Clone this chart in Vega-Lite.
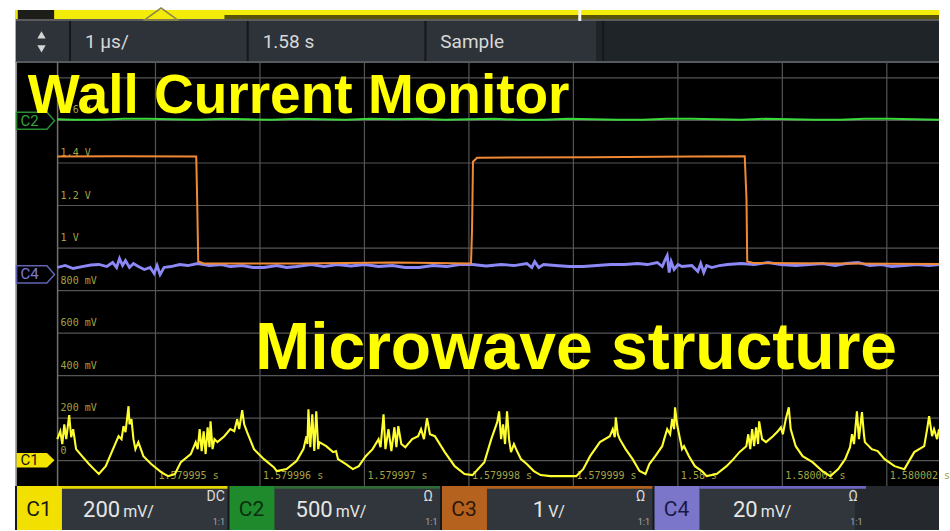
{
  "$schema": "https://vega.github.io/schema/vega-lite/v6.json",
  "width": 950,
  "height": 531,
  "autosize": {"type": "fit", "contains": "padding"},
  "padding": 0,
  "background": "#ffffff",
  "config": {"view": {"stroke": null}},
  "resolve": {"scale": {"x": "independent", "color": "independent"}},
  "datasets": {
    "c1": [
      {"t": -5.940, "v": 0.101}, {"t": -5.911, "v": 0.138}, {"t": -5.892, "v": 0.078}, {"t": -5.873, "v": 0.171},
      {"t": -5.854, "v": 0.101}, {"t": -5.826, "v": 0.214}, {"t": -5.807, "v": 0.110}, {"t": -5.788, "v": 0.148},
      {"t": -5.760, "v": 0.054}, {"t": -5.703, "v": 0.021}, {"t": -5.637, "v": -0.016}, {"t": -5.589, "v": -0.040},
      {"t": -5.542, "v": -0.063}, {"t": -5.476, "v": -0.026}, {"t": -5.419, "v": 0.040}, {"t": -5.353, "v": 0.115},
      {"t": -5.325, "v": 0.101}, {"t": -5.306, "v": 0.162}, {"t": -5.287, "v": 0.134}, {"t": -5.258, "v": 0.256},
      {"t": -5.249, "v": 0.171}, {"t": -5.230, "v": 0.195}, {"t": -5.211, "v": 0.101}, {"t": -5.192, "v": 0.054},
      {"t": -5.164, "v": 0.087}, {"t": -5.116, "v": 0.021}, {"t": -5.041, "v": -0.016}, {"t": -4.946, "v": -0.054},
      {"t": -4.880, "v": -0.073}, {"t": -4.814, "v": -0.063}, {"t": -4.757, "v": -0.007}, {"t": -4.662, "v": 0.031},
      {"t": -4.615, "v": 0.087}, {"t": -4.596, "v": 0.054}, {"t": -4.577, "v": 0.148}, {"t": -4.558, "v": 0.045},
      {"t": -4.539, "v": 0.138}, {"t": -4.520, "v": 0.031}, {"t": -4.501, "v": 0.157}, {"t": -4.483, "v": 0.063},
      {"t": -4.473, "v": 0.185}, {"t": -4.454, "v": 0.054}, {"t": -4.435, "v": 0.101}, {"t": -4.407, "v": 0.087},
      {"t": -4.341, "v": 0.115}, {"t": -4.284, "v": 0.148}, {"t": -4.246, "v": 0.138}, {"t": -4.218, "v": 0.195},
      {"t": -4.199, "v": 0.148}, {"t": -4.170, "v": 0.237}, {"t": -4.151, "v": 0.171}, {"t": -4.123, "v": 0.134},
      {"t": -4.057, "v": 0.054}, {"t": -3.962, "v": 0.007}, {"t": -3.868, "v": -0.031}, {"t": -3.839, "v": -0.049},
      {"t": -3.745, "v": -0.040}, {"t": -3.650, "v": -0.002}, {"t": -3.584, "v": 0.054}, {"t": -3.555, "v": 0.115},
      {"t": -3.546, "v": 0.078}, {"t": -3.536, "v": 0.242}, {"t": -3.518, "v": 0.063}, {"t": -3.499, "v": 0.218},
      {"t": -3.480, "v": 0.045}, {"t": -3.461, "v": 0.232}, {"t": -3.442, "v": 0.054}, {"t": -3.432, "v": 0.087},
      {"t": -3.366, "v": 0.068}, {"t": -3.300, "v": 0.040}, {"t": -3.272, "v": 0.045}, {"t": -3.253, "v": 0.007},
      {"t": -3.177, "v": -0.016}, {"t": -3.111, "v": -0.040}, {"t": -3.054, "v": -0.026}, {"t": -2.988, "v": 0.021},
      {"t": -2.922, "v": 0.054}, {"t": -2.865, "v": 0.101}, {"t": -2.846, "v": 0.063}, {"t": -2.817, "v": 0.218},
      {"t": -2.799, "v": 0.054}, {"t": -2.770, "v": 0.148}, {"t": -2.742, "v": 0.045}, {"t": -2.713, "v": 0.157},
      {"t": -2.694, "v": 0.063}, {"t": -2.676, "v": 0.162}, {"t": -2.647, "v": 0.078}, {"t": -2.609, "v": 0.063},
      {"t": -2.543, "v": 0.101}, {"t": -2.486, "v": 0.115}, {"t": -2.458, "v": 0.148}, {"t": -2.430, "v": 0.101},
      {"t": -2.401, "v": 0.200}, {"t": -2.373, "v": 0.124}, {"t": -2.326, "v": 0.115}, {"t": -2.231, "v": 0.040},
      {"t": -2.136, "v": -0.026}, {"t": -2.042, "v": -0.063}, {"t": -1.966, "v": -0.068}, {"t": -1.852, "v": -0.007},
      {"t": -1.786, "v": 0.101}, {"t": -1.729, "v": 0.181}, {"t": -1.711, "v": 0.232}, {"t": -1.692, "v": 0.101},
      {"t": -1.673, "v": 0.171}, {"t": -1.654, "v": 0.078}, {"t": -1.635, "v": 0.232}, {"t": -1.616, "v": 0.101},
      {"t": -1.597, "v": 0.040}, {"t": -1.569, "v": 0.078}, {"t": -1.540, "v": 0.045}, {"t": -1.502, "v": 0.007},
      {"t": -1.446, "v": -0.016}, {"t": -1.379, "v": -0.049}, {"t": -1.313, "v": -0.068}, {"t": -1.219, "v": -0.073},
      {"t": -1.096, "v": -0.073}, {"t": -0.973, "v": -0.073}, {"t": -0.906, "v": -0.040}, {"t": -0.840, "v": 0.021},
      {"t": -0.746, "v": 0.087}, {"t": -0.651, "v": 0.115}, {"t": -0.623, "v": 0.148}, {"t": -0.604, "v": 0.110},
      {"t": -0.594, "v": 0.204}, {"t": -0.575, "v": 0.124}, {"t": -0.556, "v": 0.101}, {"t": -0.500, "v": 0.054},
      {"t": -0.433, "v": 0.007}, {"t": -0.367, "v": -0.049}, {"t": -0.310, "v": -0.063}, {"t": -0.273, "v": -0.016},
      {"t": -0.216, "v": 0.021}, {"t": -0.150, "v": 0.068}, {"t": -0.131, "v": 0.101}, {"t": -0.102, "v": 0.148},
      {"t": -0.074, "v": 0.124}, {"t": -0.055, "v": 0.195}, {"t": -0.036, "v": 0.148}, {"t": -0.027, "v": 0.251},
      {"t": -0.008, "v": 0.171}, {"t": 0.021, "v": 0.101}, {"t": 0.040, "v": 0.054}, {"t": 0.059, "v": 0.068},
      {"t": 0.106, "v": 0.021}, {"t": 0.163, "v": -0.026}, {"t": 0.229, "v": -0.049}, {"t": 0.276, "v": -0.073},
      {"t": 0.371, "v": -0.063}, {"t": 0.466, "v": -0.026}, {"t": 0.532, "v": 0.007}, {"t": 0.589, "v": 0.040},
      {"t": 0.655, "v": 0.068}, {"t": 0.674, "v": 0.124}, {"t": 0.693, "v": 0.054}, {"t": 0.711, "v": 0.148},
      {"t": 0.730, "v": 0.068}, {"t": 0.749, "v": 0.157}, {"t": 0.768, "v": 0.078}, {"t": 0.778, "v": 0.185},
      {"t": 0.806, "v": 0.101}, {"t": 0.844, "v": 0.087}, {"t": 0.910, "v": 0.115}, {"t": 0.957, "v": 0.138},
      {"t": 0.986, "v": 0.157}, {"t": 1.005, "v": 0.124}, {"t": 1.033, "v": 0.195}, {"t": 1.062, "v": 0.251},
      {"t": 1.080, "v": 0.148}, {"t": 1.128, "v": 0.068}, {"t": 1.194, "v": 0.021}, {"t": 1.289, "v": -0.007},
      {"t": 1.383, "v": -0.049}, {"t": 1.459, "v": -0.073}, {"t": 1.535, "v": -0.040}, {"t": 1.601, "v": 0.007},
      {"t": 1.648, "v": 0.063}, {"t": 1.667, "v": 0.124}, {"t": 1.686, "v": 0.078}, {"t": 1.714, "v": 0.232},
      {"t": 1.733, "v": 0.101}, {"t": 1.762, "v": 0.228}, {"t": 1.781, "v": 0.124}, {"t": 1.790, "v": 0.087},
      {"t": 1.856, "v": 0.054}, {"t": 1.913, "v": 0.045}, {"t": 1.979, "v": 0.007}, {"t": 2.074, "v": -0.026},
      {"t": 2.168, "v": -0.040}, {"t": 2.263, "v": 0.040}, {"t": 2.358, "v": 0.068}, {"t": 2.386, "v": 0.148},
      {"t": 2.405, "v": 0.209}, {"t": 2.433, "v": 0.115}, {"t": 2.452, "v": 0.148}, {"t": 2.481, "v": 0.101},
      {"t": 2.4995, "v": 0.148}
    ],
    "c2": [
      {"t": -5.940, "v": 1.6056}, {"t": -5.778, "v": 1.6033}, {"t": -5.542, "v": 1.6033}, {"t": -5.305, "v": 1.6080},
      {"t": -5.069, "v": 1.6080}, {"t": -4.832, "v": 1.6056}, {"t": -4.596, "v": 1.6033}, {"t": -4.360, "v": 1.6080},
      {"t": -4.123, "v": 1.6056}, {"t": -3.887, "v": 1.6033}, {"t": -3.650, "v": 1.6080}, {"t": -3.414, "v": 1.6056},
      {"t": -3.177, "v": 1.6033}, {"t": -2.941, "v": 1.6080}, {"t": -2.704, "v": 1.6056}, {"t": -2.468, "v": 1.6080},
      {"t": -2.231, "v": 1.6033}, {"t": -1.995, "v": 1.6056}, {"t": -1.758, "v": 1.6080}, {"t": -1.522, "v": 1.6033},
      {"t": -1.285, "v": 1.6033}, {"t": -1.049, "v": 1.6080}, {"t": -0.812, "v": 1.6056}, {"t": -0.576, "v": 1.6033},
      {"t": -0.339, "v": 1.6033}, {"t": -0.103, "v": 1.6080}, {"t": 0.134, "v": 1.6080}, {"t": 0.370, "v": 1.6056},
      {"t": 0.607, "v": 1.6033}, {"t": 0.843, "v": 1.6080}, {"t": 1.080, "v": 1.6056}, {"t": 1.316, "v": 1.6033},
      {"t": 1.553, "v": 1.6033}, {"t": 1.789, "v": 1.6080}, {"t": 2.026, "v": 1.6080}, {"t": 2.262, "v": 1.6056},
      {"t": 2.4995, "v": 1.6033}
    ],
    "c3": [
      {"t": -5.940, "v": 1.430}, {"t": -5.353, "v": 1.432}, {"t": -4.610, "v": 1.430}, {"t": -4.601, "v": 1.228},
      {"t": -4.591, "v": 0.937}, {"t": -4.539, "v": 0.927}, {"t": -3.650, "v": 0.927}, {"t": -2.704, "v": 0.932},
      {"t": -1.980, "v": 0.927}, {"t": -1.970, "v": 1.087}, {"t": -1.961, "v": 1.406}, {"t": -1.922, "v": 1.425},
      {"t": -0.812, "v": 1.427}, {"t": 0.134, "v": 1.430}, {"t": 0.640, "v": 1.432}, {"t": 0.657, "v": 1.228},
      {"t": 0.664, "v": 0.937}, {"t": 0.721, "v": 0.930}, {"t": 1.553, "v": 0.927}, {"t": 2.4995, "v": 0.925}
    ],
    "c4": [
      {"t": -5.940, "v": 0.9085}, {"t": -5.864, "v": 0.9178}, {"t": -5.788, "v": 0.9038}, {"t": -5.703, "v": 0.9131},
      {"t": -5.618, "v": 0.9202}, {"t": -5.542, "v": 0.9225}, {"t": -5.466, "v": 0.9131}, {"t": -5.410, "v": 0.9319},
      {"t": -5.372, "v": 0.9085}, {"t": -5.344, "v": 0.9507}, {"t": -5.315, "v": 0.9178}, {"t": -5.287, "v": 0.9413},
      {"t": -5.249, "v": 0.9085}, {"t": -5.211, "v": 0.9272}, {"t": -5.164, "v": 0.9131}, {"t": -5.107, "v": 0.8991},
      {"t": -5.051, "v": 0.9085}, {"t": -5.013, "v": 0.8803}, {"t": -4.985, "v": 0.9178}, {"t": -4.956, "v": 0.8756},
      {"t": -4.918, "v": 0.9085}, {"t": -4.852, "v": 0.9131}, {"t": -4.767, "v": 0.9225}, {"t": -4.691, "v": 0.9178},
      {"t": -4.596, "v": 0.9272}, {"t": -4.482, "v": 0.9178}, {"t": -4.369, "v": 0.9225}, {"t": -4.284, "v": 0.9131},
      {"t": -4.170, "v": 0.9178}, {"t": -4.066, "v": 0.9085}, {"t": -3.962, "v": 0.9085}, {"t": -3.839, "v": 0.9178},
      {"t": -3.745, "v": 0.9085}, {"t": -3.650, "v": 0.9131}, {"t": -3.508, "v": 0.9225}, {"t": -3.385, "v": 0.9131},
      {"t": -3.262, "v": 0.9225}, {"t": -3.130, "v": 0.9155}, {"t": -2.997, "v": 0.9225}, {"t": -2.865, "v": 0.9131},
      {"t": -2.732, "v": 0.9178}, {"t": -2.609, "v": 0.9085}, {"t": -2.477, "v": 0.9085}, {"t": -2.345, "v": 0.9178},
      {"t": -2.212, "v": 0.9131}, {"t": -2.089, "v": 0.9225}, {"t": -1.966, "v": 0.9225}, {"t": -1.834, "v": 0.9155},
      {"t": -1.691, "v": 0.9225}, {"t": -1.568, "v": 0.9178}, {"t": -1.446, "v": 0.9272}, {"t": -1.398, "v": 0.9085},
      {"t": -1.370, "v": 0.9366}, {"t": -1.332, "v": 0.9085}, {"t": -1.285, "v": 0.9225}, {"t": -1.172, "v": 0.9178},
      {"t": -1.039, "v": 0.9131}, {"t": -0.906, "v": 0.9131}, {"t": -0.774, "v": 0.9178}, {"t": -0.641, "v": 0.9225},
      {"t": -0.509, "v": 0.9225}, {"t": -0.386, "v": 0.9272}, {"t": -0.291, "v": 0.9225}, {"t": -0.197, "v": 0.9319},
      {"t": -0.149, "v": 0.9131}, {"t": -0.121, "v": 0.9460}, {"t": -0.102, "v": 0.9648}, {"t": -0.083, "v": 0.8850},
      {"t": -0.064, "v": 0.9366}, {"t": -0.036, "v": 0.8991}, {"t": 0.002, "v": 0.9225}, {"t": 0.040, "v": 0.9131},
      {"t": 0.134, "v": 0.9178}, {"t": 0.191, "v": 0.8897}, {"t": 0.219, "v": 0.9272}, {"t": 0.248, "v": 0.8850},
      {"t": 0.276, "v": 0.9178}, {"t": 0.324, "v": 0.9085}, {"t": 0.399, "v": 0.9178}, {"t": 0.475, "v": 0.9225},
      {"t": 0.607, "v": 0.9272}, {"t": 0.730, "v": 0.9225}, {"t": 0.863, "v": 0.9319}, {"t": 0.986, "v": 0.9225},
      {"t": 1.128, "v": 0.9178}, {"t": 1.260, "v": 0.9225}, {"t": 1.383, "v": 0.9272}, {"t": 1.506, "v": 0.9178},
      {"t": 1.610, "v": 0.9272}, {"t": 1.724, "v": 0.9319}, {"t": 1.837, "v": 0.9178}, {"t": 1.951, "v": 0.9225},
      {"t": 2.045, "v": 0.9131}, {"t": 2.168, "v": 0.9178}, {"t": 2.291, "v": 0.9225}, {"t": 2.404, "v": 0.9178},
      {"t": 2.4995, "v": 0.9225}
    ],
    "hgrid": [{"v": 0}, {"v": 0.2}, {"v": 0.4}, {"v": 0.6}, {"v": 0.8}, {"v": 1.0}, {"v": 1.2}, {"v": 1.4}, {"v": 1.6}, {"v": 1.8}],
    "vgrid": [{"t": -5}, {"t": -4}, {"t": -3}, {"t": -2}, {"t": -1}, {"t": 0}, {"t": 1}, {"t": 2}],
    "vlabels": [
      {"v": 1.6, "label": "1.6 V"}, {"v": 1.4, "label": "1.4 V"}, {"v": 1.2, "label": "1.2 V"},
      {"v": 1.0, "label": "1 V"}, {"v": 0.8, "label": "800 mV"}, {"v": 0.6, "label": "600 mV"},
      {"v": 0.4, "label": "400 mV"}, {"v": 0.2, "label": "200 mV"}, {"v": 0, "label": "0"}
    ],
    "tlabels": [
      {"t": -5, "label": "1.579995 s"}, {"t": -4, "label": "1.579996 s"}, {"t": -3, "label": "1.579997 s"},
      {"t": -2, "label": "1.579998 s"}, {"t": -1, "label": "1.579999 s"}, {"t": 0, "label": "1.58 s"},
      {"t": 1, "label": "1.580001 s"}, {"t": 2, "label": "1.580002 s"}
    ],
    "refs": [{"ch": "C1", "v": 0.002}, {"ch": "C2", "v": 1.599}, {"ch": "C4", "v": 0.876}],
    "toolbar": [{"item": "1 µs/"}, {"item": "1.58 s"}, {"item": "Sample"}, {"item": " "}],
    "channels": [
      {"ch": "C1", "vdiv": "200", "unit": "mV/", "term": "DC", "ratio": "1:1"},
      {"ch": "C2", "vdiv": "500", "unit": "mV/", "term": "Ω", "ratio": "1:1"},
      {"ch": "C3", "vdiv": "1", "unit": "V/", "term": "Ω", "ratio": "1:1"},
      {"ch": "C4", "vdiv": "20", "unit": "mV/", "term": "Ω", "ratio": "1:1"}
    ]
  },
  "layer": [
    {
      "data": {"values": [{}]},
      "mark": {"type": "rect", "color": "#000000"},
      "encoding": {
        "x": {"datum": -6.337, "type": "quantitative", "scale": {"domain": [-6.4882, 2.4995], "nice": false, "zero": false}, "axis": null},
        "x2": {"datum": 2.4995},
        "y": {"datum": -0.3263, "type": "quantitative", "scale": {"domain": [-0.3263, 2.1667], "nice": false, "zero": false}, "axis": null},
        "y2": {"datum": 2.1197}
      }
    },
    {
      "data": {"values": [{}]},
      "mark": {"type": "rect", "color": "#f3eb0a"},
      "encoding": {
        "x": {"datum": -6.337, "type": "quantitative", "scale": {"domain": [-6.4882, 2.4995], "nice": false, "zero": false}, "axis": null},
        "x2": {"datum": 2.4995},
        "y": {"datum": 2.0775, "type": "quantitative", "scale": {"domain": [-0.3263, 2.1667], "nice": false, "zero": false}, "axis": null},
        "y2": {"datum": 2.1197}
      }
    },
    {
      "data": {"values": [{}]},
      "mark": {"type": "rect", "color": "#3e3a0c", "opacity": 0.85},
      "encoding": {
        "x": {"datum": -4.34, "type": "quantitative", "scale": {"domain": [-6.4882, 2.4995], "nice": false, "zero": false}, "axis": null},
        "x2": {"datum": 2.4995},
        "y": {"datum": 2.0775, "type": "quantitative", "scale": {"domain": [-0.3263, 2.1667], "nice": false, "zero": false}, "axis": null},
        "y2": {"datum": 2.0962}
      }
    },
    {
      "data": {"values": [{}]},
      "mark": {"type": "rect", "color": "#5a5b5d"},
      "encoding": {
        "x": {"datum": -6.337, "type": "quantitative", "scale": {"domain": [-6.4882, 2.4995], "nice": false, "zero": false}, "axis": null},
        "x2": {"datum": 2.4995},
        "y": {"datum": 2.0681, "type": "quantitative", "scale": {"domain": [-0.3263, 2.1667], "nice": false, "zero": false}, "axis": null},
        "y2": {"datum": 2.0775}
      }
    },
    {
      "data": {"values": [{}]},
      "mark": {"type": "rect", "color": "#1d1d1a"},
      "encoding": {
        "x": {"datum": -6.318, "type": "quantitative", "scale": {"domain": [-6.4882, 2.4995], "nice": false, "zero": false}, "axis": null},
        "x2": {"datum": -5.97},
        "y": {"datum": 2.0775, "type": "quantitative", "scale": {"domain": [-0.3263, 2.1667], "nice": false, "zero": false}, "axis": null},
        "y2": {"datum": 2.1197}
      }
    },
    {
      "data": {"values": [{}]},
      "mark": {"type": "point", "shape": "M-1,0.36L0,-0.36L1,0.36Z", "size": 1089, "filled": false, "stroke": "#8f8646", "strokeWidth": 1.5, "opacity": 1},
      "encoding": {
        "x": {"datum": -4.946, "type": "quantitative", "scale": {"domain": [-6.4882, 2.4995], "nice": false, "zero": false}, "axis": null},
        "y": {"datum": 2.1009, "type": "quantitative", "scale": {"domain": [-0.3263, 2.1667], "nice": false, "zero": false}, "axis": null}
      }
    },
    {
      "data": {"values": [{}]},
      "mark": {"type": "rule", "color": "#f4f4f4", "strokeWidth": 3},
      "encoding": {
        "x": {"datum": -0.939, "type": "quantitative", "scale": {"domain": [-6.4882, 2.4995], "nice": false, "zero": false}, "axis": null},
        "y": {"datum": 2.0681, "type": "quantitative", "scale": {"domain": [-0.3263, 2.1667], "nice": false, "zero": false}, "axis": null},
        "y2": {"datum": 2.1197}
      }
    },
    {
      "data": {"values": [{}]},
      "mark": {"type": "rect", "color": "#2d3338"},
      "encoding": {
        "x": {"datum": -6.337, "type": "quantitative", "scale": {"domain": [-6.4882, 2.4995], "nice": false, "zero": false}, "axis": null},
        "x2": {"datum": 2.4995},
        "y": {"datum": 1.8756, "type": "quantitative", "scale": {"domain": [-0.3263, 2.1667], "nice": false, "zero": false}, "axis": null},
        "y2": {"datum": 2.0681}
      }
    },
    {
      "data": {"values": [{}]},
      "mark": {"type": "rect", "color": "#1f2428"},
      "encoding": {
        "x": {"datum": -0.783, "type": "quantitative", "scale": {"domain": [-6.4882, 2.4995], "nice": false, "zero": false}, "axis": null},
        "x2": {"datum": 2.4995},
        "y": {"datum": 1.8756, "type": "quantitative", "scale": {"domain": [-0.3263, 2.1667], "nice": false, "zero": false}, "axis": null},
        "y2": {"datum": 2.0681}
      }
    },
    {
      "data": {"name": "toolbar"},
      "mark": {"type": "rule", "color": "#15181b", "strokeWidth": 2},
      "encoding": {
        "x": {"field": "item", "type": "nominal", "bandPosition": 0, "scale": {"type": "band", "domain": ["1 µs/", "1.58 s", "Sample", " "], "range": [70, 780.8], "paddingInner": 0, "paddingOuter": 0}, "axis": null},
        "y": {"datum": 1.8756, "type": "quantitative", "scale": {"domain": [-0.3263, 2.1667], "nice": false, "zero": false}, "axis": null},
        "y2": {"datum": 2.0681}
      }
    },
    {
      "data": {"name": "toolbar"},
      "mark": {"type": "text", "align": "left", "baseline": "middle", "font": "Liberation Sans Narrow, Roboto, sans-serif", "fontSize": 19, "color": "#d8d8d8"},
      "encoding": {
        "x": {"field": "item", "type": "nominal", "bandPosition": 0.084, "scale": {"type": "band", "domain": ["1 µs/", "1.58 s", "Sample", " "], "range": [70, 780.8], "paddingInner": 0, "paddingOuter": 0}, "axis": null},
        "y": {"datum": 1.9695, "type": "quantitative", "scale": {"domain": [-0.3263, 2.1667], "nice": false, "zero": false}, "axis": null},
        "text": {"field": "item"}
      }
    },
    {
      "data": {"values": [{}]},
      "mark": {"type": "point", "shape": "triangle-up", "size": 70, "filled": true, "color": "#d4d4d4", "opacity": 1},
      "encoding": {
        "x": {"datum": -6.091, "type": "quantitative", "scale": {"domain": [-6.4882, 2.4995], "nice": false, "zero": false}, "axis": null},
        "y": {"datum": 2.0023, "type": "quantitative", "scale": {"domain": [-0.3263, 2.1667], "nice": false, "zero": false}, "axis": null}
      }
    },
    {
      "data": {"values": [{}]},
      "mark": {"type": "point", "shape": "triangle-down", "size": 70, "filled": true, "color": "#d4d4d4", "opacity": 1},
      "encoding": {
        "x": {"datum": -6.091, "type": "quantitative", "scale": {"domain": [-6.4882, 2.4995], "nice": false, "zero": false}, "axis": null},
        "y": {"datum": 1.9366, "type": "quantitative", "scale": {"domain": [-0.3263, 2.1667], "nice": false, "zero": false}, "axis": null}
      }
    },
    {
      "data": {"values": [{}]},
      "mark": {"type": "rule", "color": "#545a5f", "strokeWidth": 2},
      "encoding": {
        "x": {"datum": -6.337, "type": "quantitative", "scale": {"domain": [-6.4882, 2.4995], "nice": false, "zero": false}, "axis": null},
        "x2": {"datum": 2.4995},
        "y": {"datum": 1.8756, "type": "quantitative", "scale": {"domain": [-0.3263, 2.1667], "nice": false, "zero": false}, "axis": null}
      }
    },
    {
      "data": {"name": "hgrid"},
      "mark": {"type": "rule", "color": "#555555", "strokeWidth": 1.2},
      "encoding": {
        "x": {"datum": -5.937, "type": "quantitative", "scale": {"domain": [-6.4882, 2.4995], "nice": false, "zero": false}, "axis": null},
        "x2": {"datum": 2.4995},
        "y": {"field": "v", "type": "quantitative", "scale": {"domain": [-0.3263, 2.1667], "nice": false, "zero": false}, "axis": null}
      }
    },
    {
      "data": {"name": "vgrid"},
      "mark": {"type": "rule", "color": "#555555", "strokeWidth": 1.2},
      "encoding": {
        "x": {"field": "t", "type": "quantitative", "scale": {"domain": [-6.4882, 2.4995], "nice": false, "zero": false}, "axis": null},
        "y": {"datum": -0.1197, "type": "quantitative", "scale": {"domain": [-0.3263, 2.1667], "nice": false, "zero": false}, "axis": null},
        "y2": {"datum": 1.8756}
      }
    },
    {
      "data": {"values": [{}]},
      "mark": {"type": "rule", "color": "#707070", "strokeWidth": 1.5},
      "encoding": {
        "x": {"datum": -5.937, "type": "quantitative", "scale": {"domain": [-6.4882, 2.4995], "nice": false, "zero": false}, "axis": null},
        "y": {"datum": -0.1197, "type": "quantitative", "scale": {"domain": [-0.3263, 2.1667], "nice": false, "zero": false}, "axis": null},
        "y2": {"datum": 1.8756}
      }
    },
    {
      "data": {"values": [{}]},
      "mark": {"type": "rule", "color": "#8a8a8a", "strokeWidth": 1.5},
      "encoding": {
        "x": {"datum": -6.332, "type": "quantitative", "scale": {"domain": [-6.4882, 2.4995], "nice": false, "zero": false}, "axis": null},
        "y": {"datum": -0.1197, "type": "quantitative", "scale": {"domain": [-0.3263, 2.1667], "nice": false, "zero": false}, "axis": null},
        "y2": {"datum": 1.8756}
      }
    },
    {
      "data": {"name": "vlabels"},
      "mark": {"type": "text", "align": "left", "baseline": "bottom", "dx": 3, "dy": -5, "font": "DejaVu Sans Mono", "fontSize": 10, "color": "#a3a345"},
      "encoding": {
        "x": {"datum": -5.937, "type": "quantitative", "scale": {"domain": [-6.4882, 2.4995], "nice": false, "zero": false}, "axis": null},
        "y": {"field": "v", "type": "quantitative", "scale": {"domain": [-0.3263, 2.1667], "nice": false, "zero": false}, "axis": null},
        "text": {"field": "label"}
      }
    },
    {
      "data": {"name": "tlabels"},
      "mark": {"type": "text", "align": "left", "baseline": "middle", "dx": 3, "font": "DejaVu Sans Mono", "fontSize": 10, "color": "#a3a345"},
      "encoding": {
        "x": {"field": "t", "type": "quantitative", "scale": {"domain": [-6.4882, 2.4995], "nice": false, "zero": false}, "axis": null},
        "y": {"datum": -0.0728, "type": "quantitative", "scale": {"domain": [-0.3263, 2.1667], "nice": false, "zero": false}, "axis": null},
        "text": {"field": "label"}
      }
    },
    {
      "data": {"name": "c2"},
      "mark": {"type": "line", "color": "#3ad83a", "strokeWidth": 2, "clip": true},
      "encoding": {
        "x": {"field": "t", "type": "quantitative", "scale": {"domain": [-6.4882, 2.4995], "nice": false, "zero": false}, "axis": null},
        "y": {"field": "v", "type": "quantitative", "scale": {"domain": [-0.3263, 2.1667], "nice": false, "zero": false}, "axis": null}
      }
    },
    {
      "data": {"name": "c4"},
      "mark": {"type": "line", "color": "#8c88f6", "strokeWidth": 2.8, "clip": true},
      "encoding": {
        "x": {"field": "t", "type": "quantitative", "scale": {"domain": [-6.4882, 2.4995], "nice": false, "zero": false}, "axis": null},
        "y": {"field": "v", "type": "quantitative", "scale": {"domain": [-0.3263, 2.1667], "nice": false, "zero": false}, "axis": null}
      }
    },
    {
      "data": {"name": "c3"},
      "mark": {"type": "line", "color": "#f08a36", "strokeWidth": 2, "clip": true},
      "encoding": {
        "x": {"field": "t", "type": "quantitative", "scale": {"domain": [-6.4882, 2.4995], "nice": false, "zero": false}, "axis": null},
        "y": {"field": "v", "type": "quantitative", "scale": {"domain": [-0.3263, 2.1667], "nice": false, "zero": false}, "axis": null}
      }
    },
    {
      "data": {"name": "c1"},
      "mark": {"type": "line", "color": "#ffff30", "strokeWidth": 2.1, "clip": true},
      "encoding": {
        "x": {"field": "t", "type": "quantitative", "scale": {"domain": [-6.4882, 2.4995], "nice": false, "zero": false}, "axis": null},
        "y": {"field": "v", "type": "quantitative", "scale": {"domain": [-0.3263, 2.1667], "nice": false, "zero": false}, "axis": null}
      }
    },
    {
      "data": {"name": "refs"},
      "transform": [{"filter": "datum.ch !== 'C1'"}],
      "mark": {"type": "point", "shape": "M-1,-0.45L0.6,-0.45L1,0L0.6,0.45L-1,0.45Z", "size": 1444, "filled": false, "strokeWidth": 1.5, "opacity": 1},
      "encoding": {
        "x": {"datum": -6.148, "type": "quantitative", "scale": {"domain": [-6.4882, 2.4995], "nice": false, "zero": false}, "axis": null},
        "y": {"field": "v", "type": "quantitative", "scale": {"domain": [-0.3263, 2.1667], "nice": false, "zero": false}, "axis": null},
        "color": {"field": "ch", "type": "nominal", "scale": {"domain": ["C2", "C4"], "range": ["#2c8c36", "#6262b4"]}, "legend": null}
      }
    },
    {
      "data": {"name": "refs"},
      "transform": [{"filter": "datum.ch === 'C1'"}],
      "mark": {"type": "point", "shape": "M-1,-0.38L0.6,-0.38L1,0L0.6,0.38L-1,0.38Z", "size": 1444, "filled": true, "color": "#f2e400", "opacity": 1},
      "encoding": {
        "x": {"datum": -6.148, "type": "quantitative", "scale": {"domain": [-6.4882, 2.4995], "nice": false, "zero": false}, "axis": null},
        "y": {"field": "v", "type": "quantitative", "scale": {"domain": [-0.3263, 2.1667], "nice": false, "zero": false}, "axis": null}
      }
    },
    {
      "data": {"name": "refs"},
      "mark": {"type": "text", "align": "center", "baseline": "middle", "font": "Liberation Sans Narrow, Roboto, sans-serif", "fontSize": 15},
      "encoding": {
        "x": {"datum": -6.205, "type": "quantitative", "scale": {"domain": [-6.4882, 2.4995], "nice": false, "zero": false}, "axis": null},
        "y": {"field": "v", "type": "quantitative", "scale": {"domain": [-0.3263, 2.1667], "nice": false, "zero": false}, "axis": null},
        "text": {"field": "ch"},
        "color": {"field": "ch", "type": "nominal", "scale": {"domain": ["C1", "C2", "C4"], "range": ["#151515", "#34a03e", "#7c7cd6"]}, "legend": null}
      }
    },
    {
      "data": {"values": [{"caption": "Wall Current Monitor"}]},
      "mark": {"type": "text", "align": "left", "baseline": "alphabetic", "font": "Liberation Sans", "fontWeight": "bold", "fontSize": 55, "color": "#ffff00"},
      "encoding": {
        "x": {"datum": -6.2233, "type": "quantitative", "scale": {"domain": [-6.4882, 2.4995], "nice": false, "zero": false}, "axis": null},
        "y": {"datum": 1.6362, "type": "quantitative", "scale": {"domain": [-0.3263, 2.1667], "nice": false, "zero": false}, "axis": null},
        "text": {"field": "caption"}
      }
    },
    {
      "data": {"values": [{"caption": "Microwave structure"}]},
      "mark": {"type": "text", "align": "left", "baseline": "alphabetic", "font": "Liberation Sans", "fontWeight": "bold", "fontSize": 66, "color": "#ffff00"},
      "encoding": {
        "x": {"datum": -4.046, "type": "quantitative", "scale": {"domain": [-6.4882, 2.4995], "nice": false, "zero": false}, "axis": null},
        "y": {"datum": 0.4296, "type": "quantitative", "scale": {"domain": [-0.3263, 2.1667], "nice": false, "zero": false}, "axis": null},
        "text": {"field": "caption"}
      }
    },
    {
      "data": {"values": [{}]},
      "mark": {"type": "rect", "color": "#30363b"},
      "encoding": {
        "x": {"datum": -6.337, "type": "quantitative", "scale": {"domain": [-6.4882, 2.4995], "nice": false, "zero": false}, "axis": null},
        "x2": {"datum": 2.4995},
        "y": {"datum": -0.3263, "type": "quantitative", "scale": {"domain": [-0.3263, 2.1667], "nice": false, "zero": false}, "axis": null},
        "y2": {"datum": -0.1197}
      }
    },
    {
      "data": {"values": [{}]},
      "mark": {"type": "rect", "color": "#25292d"},
      "encoding": {
        "x": {"datum": 1.6954, "type": "quantitative", "scale": {"domain": [-6.4882, 2.4995], "nice": false, "zero": false}, "axis": null},
        "x2": {"datum": 2.4995},
        "y": {"datum": -0.3263, "type": "quantitative", "scale": {"domain": [-0.3263, 2.1667], "nice": false, "zero": false}, "axis": null},
        "y2": {"datum": -0.1197}
      }
    },
    {
      "data": {"name": "channels"},
      "mark": {"type": "point", "shape": "M-1,-0.016H1V0.016H-1Z", "size": 27722, "filled": true, "opacity": 1},
      "encoding": {
        "x": {"field": "ch", "type": "nominal", "bandPosition": 0.608, "scale": {"type": "band", "domain": ["C1", "C2", "C3", "C4", "C5"], "range": [16, 1078.5], "paddingInner": 0, "paddingOuter": 0}, "axis": null},
        "y": {"datum": -0.1255, "type": "quantitative", "scale": {"domain": [-0.3263, 2.1667], "nice": false, "zero": false}, "axis": null},
        "color": {"field": "ch", "type": "nominal", "scale": {"domain": ["C1", "C2", "C3", "C4"], "range": ["#e6d600", "#2f6a37", "#b0601f", "#6c66c0"]}, "legend": null}
      }
    },
    {
      "data": {"name": "channels"},
      "mark": {"type": "point", "shape": "M-1,-0.957H1V0.957H-1Z", "size": 2116, "filled": true, "opacity": 1},
      "encoding": {
        "x": {"field": "ch", "type": "nominal", "bandPosition": 0.108, "scale": {"type": "band", "domain": ["C1", "C2", "C3", "C4", "C5"], "range": [16, 1078.5], "paddingInner": 0, "paddingOuter": 0}, "axis": null},
        "y": {"datum": -0.2230, "type": "quantitative", "scale": {"domain": [-0.3263, 2.1667], "nice": false, "zero": false}, "axis": null},
        "color": {"field": "ch", "type": "nominal", "scale": {"domain": ["C1", "C2", "C3", "C4"], "range": ["#f2e000", "#1e8a2b", "#b5621f", "#7c76ca"]}, "legend": null}
      }
    },
    {
      "data": {"name": "channels"},
      "mark": {"type": "rule", "color": "#15181b", "strokeWidth": 2},
      "encoding": {
        "x": {"field": "ch", "type": "nominal", "bandPosition": 0, "scale": {"type": "band", "domain": ["C1", "C2", "C3", "C4", "C5"], "range": [16, 1078.5], "paddingInner": 0, "paddingOuter": 0}, "axis": null},
        "y": {"datum": -0.3263, "type": "quantitative", "scale": {"domain": [-0.3263, 2.1667], "nice": false, "zero": false}, "axis": null},
        "y2": {"datum": -0.1197}
      }
    },
    {
      "data": {"name": "channels"},
      "mark": {"type": "text", "align": "center", "baseline": "middle", "font": "Liberation Sans Narrow, Roboto, sans-serif", "fontSize": 21},
      "encoding": {
        "x": {"field": "ch", "type": "nominal", "bandPosition": 0.108, "scale": {"type": "band", "domain": ["C1", "C2", "C3", "C4", "C5"], "range": [16, 1078.5], "paddingInner": 0, "paddingOuter": 0}, "axis": null},
        "y": {"datum": -0.2324, "type": "quantitative", "scale": {"domain": [-0.3263, 2.1667], "nice": false, "zero": false}, "axis": null},
        "text": {"field": "ch"},
        "color": {"field": "ch", "type": "nominal", "scale": {"domain": ["C1", "C2", "C3", "C4"], "range": ["#1a1a1a", "#0c2e10", "#2e1606", "#1a1a48"]}, "legend": null}
      }
    },
    {
      "data": {"name": "channels"},
      "mark": {"type": "text", "align": "right", "baseline": "middle", "font": "Liberation Sans Narrow, Roboto, sans-serif", "fontSize": 22, "color": "#e6e6e6"},
      "encoding": {
        "x": {"field": "ch", "type": "nominal", "bandPosition": 0.49, "scale": {"type": "band", "domain": ["C1", "C2", "C3", "C4", "C5"], "range": [16, 1078.5], "paddingInner": 0, "paddingOuter": 0}, "axis": null},
        "y": {"datum": -0.2324, "type": "quantitative", "scale": {"domain": [-0.3263, 2.1667], "nice": false, "zero": false}, "axis": null},
        "text": {"field": "vdiv"}
      }
    },
    {
      "data": {"name": "channels"},
      "mark": {"type": "text", "align": "left", "baseline": "middle", "dx": 3, "dy": 2, "font": "Liberation Sans Narrow, Roboto, sans-serif", "fontSize": 16, "color": "#e6e6e6"},
      "encoding": {
        "x": {"field": "ch", "type": "nominal", "bandPosition": 0.49, "scale": {"type": "band", "domain": ["C1", "C2", "C3", "C4", "C5"], "range": [16, 1078.5], "paddingInner": 0, "paddingOuter": 0}, "axis": null},
        "y": {"datum": -0.2324, "type": "quantitative", "scale": {"domain": [-0.3263, 2.1667], "nice": false, "zero": false}, "axis": null},
        "text": {"field": "unit"}
      }
    },
    {
      "data": {"name": "channels"},
      "mark": {"type": "text", "align": "center", "baseline": "middle", "font": "Liberation Sans Narrow, Roboto, sans-serif", "fontSize": 14, "color": "#dcdcdc"},
      "encoding": {
        "x": {"field": "ch", "type": "nominal", "bandPosition": 0.94, "scale": {"type": "band", "domain": ["C1", "C2", "C3", "C4", "C5"], "range": [16, 1078.5], "paddingInner": 0, "paddingOuter": 0}, "axis": null},
        "y": {"datum": -0.1714, "type": "quantitative", "scale": {"domain": [-0.3263, 2.1667], "nice": false, "zero": false}, "axis": null},
        "text": {"field": "term"}
      }
    },
    {
      "data": {"name": "channels"},
      "mark": {"type": "text", "align": "center", "baseline": "middle", "font": "Liberation Sans Narrow, Roboto, sans-serif", "fontSize": 9, "color": "#a8a8a8"},
      "encoding": {
        "x": {"field": "ch", "type": "nominal", "bandPosition": 0.955, "scale": {"type": "band", "domain": ["C1", "C2", "C3", "C4", "C5"], "range": [16, 1078.5], "paddingInner": 0, "paddingOuter": 0}, "axis": null},
        "y": {"datum": -0.2887, "type": "quantitative", "scale": {"domain": [-0.3263, 2.1667], "nice": false, "zero": false}, "axis": null},
        "text": {"field": "ratio"}
      }
    }
  ]
}
